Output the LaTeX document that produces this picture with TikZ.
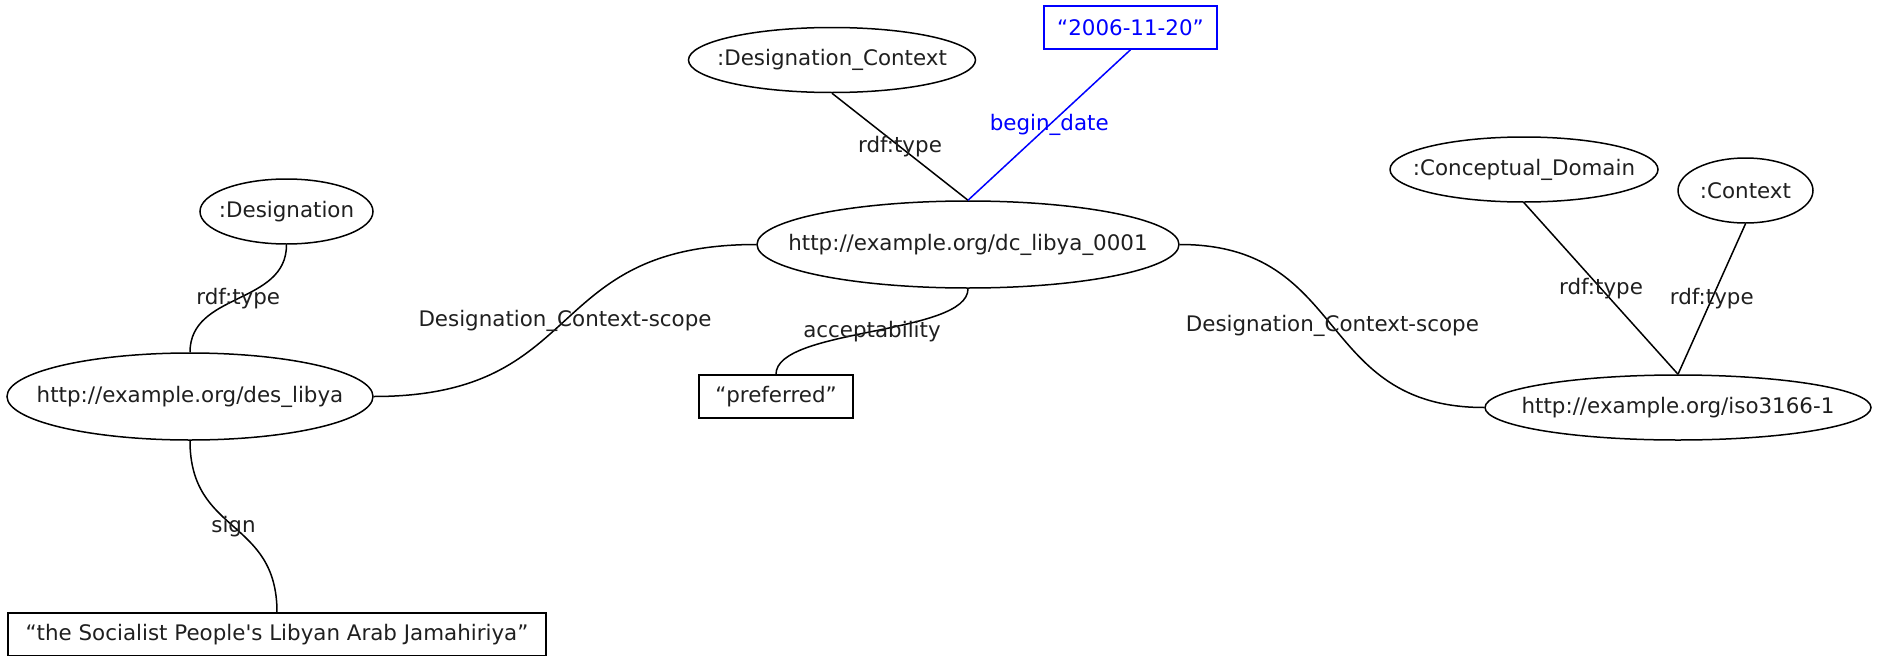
\documentclass[tikz,border=0pt]{standalone}
\usepackage{fontspec}
\setmainfont{DejaVu Sans}[Ligatures=TeXOff]
\usetikzlibrary{shapes.geometric}
\begin{document}
\begin{tikzpicture}[x=1pt,y=-1pt,
  every node/.style={font=\fontsize{21.4}{25}\selectfont, text=black!88},
  ell/.style={draw, ellipse, line width=1.5pt, inner sep=0pt},
  lit/.style={draw, rectangle, line width=1.5pt, inner sep=0pt, minimum height=43pt},
  edge/.style={line width=1.5pt},
  lbl/.style={inner sep=0pt}]
\useasboundingbox (0,0) rectangle (1877,656);
% nodes
\node[ell, minimum width=287pt, minimum height=65pt, label=center:{:Designation\_Context}] (dcon) at (832,60) {};
\node[lit, draw=blue, text=blue, minimum width=173pt] (date) at (1130.5,27.5) {“2006-11-20”};
\node[ell, minimum width=422pt, minimum height=87pt, label=center:{http://example.org/dc\_libya\_0001}] (dc) at (968,244.5) {};
\node[ell, minimum width=173pt, minimum height=65pt, label=center:{:Designation}] (des) at (286.5,211.5) {};
\node[ell, minimum width=366pt, minimum height=87pt, label=center:{http://example.org/des\_libya}] (deslib) at (190,396.5) {};
\node[lit, minimum width=154pt] (pref) at (776,396.5) {“preferred”};
\node[lit, minimum width=538pt] (sign) at (277,634.5) {“the Socialist People's Libyan Arab Jamahiriya”};
\node[ell, minimum width=268pt, minimum height=65pt, label=center:{:Conceptual\_Domain}] (cd) at (1524,169.5) {};
\node[ell, minimum width=135pt, minimum height=65pt, label=center:{:Context}] (ctx) at (1745.5,190.5) {};
\node[ell, minimum width=386pt, minimum height=65pt, label=center:{http://example.org/iso3166-1}] (iso) at (1678,407.5) {};
% edges
\draw[edge] (dcon.south) -- node[lbl] (l1) {rdf:type} (dc.north);
\draw[edge, blue] (date.south) -- node[lbl, text=blue] (l2) {begin\_date} (dc.north);
\draw[edge] (des.south) .. controls (286.5,305) and (190,292) .. node[lbl] (l3) {rdf:type} (deslib.north);
\draw[edge] (deslib.east) .. controls (590,396.5) and (540,244.5) .. node[lbl] (l4) {Designation\_Context-scope} (dc.west);
\draw[edge] (dc.east) .. controls (1350,244.5) and (1315,407.5) .. node[lbl] (l5) {Designation\_Context-scope} (iso.west);
\draw[edge] (dc.south) .. controls (968,335) and (776,328) .. node[lbl] (l6) {acceptability} (pref.north);
\draw[edge] (deslib.south) .. controls (190,535) and (277,518) .. node[lbl] (l7) {sign} (sign.north);
\draw[edge] (cd.south) -- node[lbl] (l8) {rdf:type} (iso.north);
\draw[edge] (ctx.south) -- node[lbl] (l9) {rdf:type} (iso.north);
\end{tikzpicture}
\end{document}
